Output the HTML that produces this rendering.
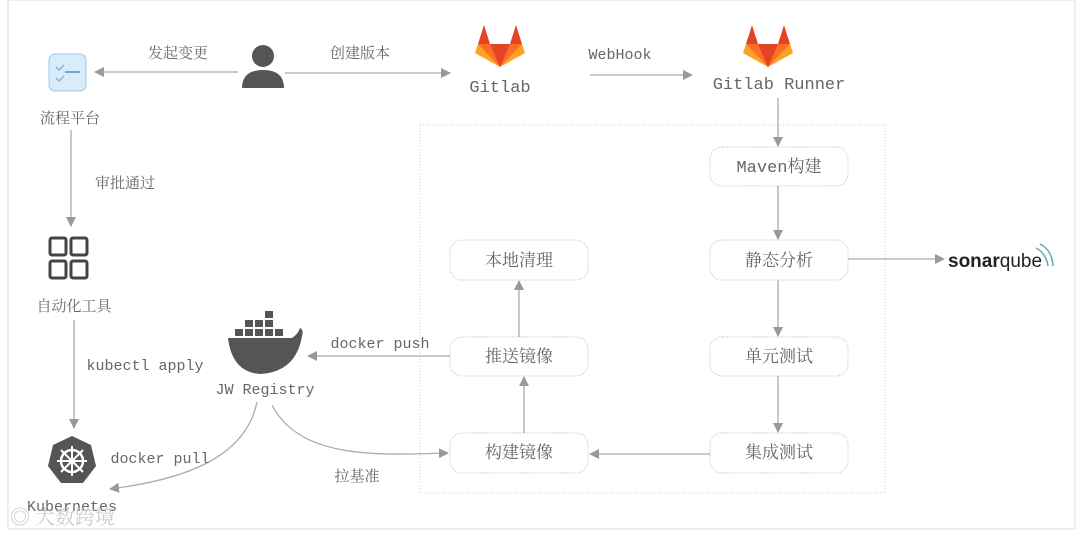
<!DOCTYPE html>
<html><head><meta charset="utf-8"><style>
html,body{margin:0;padding:0;background:#fff;width:1080px;height:535px;overflow:hidden}
svg text{font-family:"Liberation Mono","Noto Serif CJK SC",monospace;fill:#666}
.cn{font-family:"Liberation Serif","Noto Serif CJK SC",serif}
</style></head><body>
<svg width="1080" height="535" xmlns="http://www.w3.org/2000/svg">
<defs>
<marker id="a" markerWidth="10" markerHeight="10" refX="9" refY="5" orient="auto" markerUnits="userSpaceOnUse"><path d="M0,0 L10,5 L0,10 z" fill="#999"/></marker>
</defs>
<rect x="8" y="0" width="1067" height="529" fill="none" stroke="#ddd"/>
<rect x="420" y="125" width="465" height="368" fill="none" stroke="#ccc" stroke-dasharray="1,2"/>
<g fill="#fff" stroke="#bbb" stroke-dasharray="1,1.5">
<rect x="710" y="147" width="138" height="39" rx="12"/>
<rect x="710" y="240" width="138" height="40" rx="12"/>
<rect x="710" y="337" width="138" height="39" rx="12"/>
<rect x="710" y="433" width="138" height="40" rx="12"/>
<rect x="450" y="240" width="138" height="40" rx="12"/>
<rect x="450" y="337" width="138" height="39" rx="12"/>
<rect x="450" y="433" width="138" height="40" rx="12"/>
</g>
<g font-size="17" text-anchor="middle">
<text x="779" y="172">Maven<tspan class="cn">构建</tspan></text>
<text x="779" y="266" class="cn">静态分析</text>
<text x="779" y="362" class="cn">单元测试</text>
<text x="779" y="458" class="cn">集成测试</text>
<text x="519" y="266" class="cn">本地清理</text>
<text x="519" y="362" class="cn">推送镜像</text>
<text x="519" y="458" class="cn">构建镜像</text>
</g>
<g stroke="#aaa" stroke-width="1.3" fill="none" marker-end="url(#a)">
<line x1="238" y1="72" x2="95" y2="72"/>
<line x1="285" y1="73" x2="450" y2="73"/>
<line x1="590" y1="75" x2="692" y2="75"/>
<line x1="778" y1="98" x2="778" y2="146"/>
<line x1="778" y1="186" x2="778" y2="239"/>
<line x1="778" y1="280" x2="778" y2="336"/>
<line x1="778" y1="376" x2="778" y2="432"/>
<line x1="710" y1="454" x2="590" y2="454"/>
<line x1="524" y1="433" x2="524" y2="377"/>
<line x1="519" y1="337" x2="519" y2="281"/>
<line x1="848" y1="259" x2="944" y2="259"/>
<line x1="450" y1="356" x2="308" y2="356"/>
<line x1="71" y1="130" x2="71" y2="226"/>
<line x1="74" y1="320" x2="74" y2="428"/>
<path d="M257,402 C245,460 180,480 110,489"/>
<path d="M272,405 C300,460 380,455 448,453"/>
</g>
<g font-size="15" text-anchor="middle">
<text x="178" y="58" class="cn">发起变更</text>
<text x="360" y="58" class="cn">创建版本</text>
<text x="620" y="59">WebHook</text>
<text x="500" y="92" font-size="17">Gitlab</text>
<text x="779" y="89" font-size="17">Gitlab Runner</text>
<text x="70" y="123" class="cn">流程平台</text>
<text x="125" y="188" class="cn">审批通过</text>
<text x="74" y="311" class="cn">自动化工具</text>
<text x="145" y="370">kubectl apply</text>
<text x="380" y="348">docker push</text>
<text x="265" y="394">JW Registry</text>
<text x="160" y="463">docker pull</text>
<text x="357" y="481" class="cn">拉基准</text>
<text x="72" y="511">Kubernetes</text>
</g>
<rect x="49" y="54" width="37" height="37" rx="6" fill="#d8ecfa" stroke="#9cc8ea"/>
<path d="M56,67 l3,3 5,-5 M56,78 l3,3 5,-5" stroke="#7fb2da" fill="none" stroke-width="1.4"/>
<line x1="65" y1="72" x2="80" y2="72" stroke="#6aa8dd" stroke-width="2"/>
<circle cx="263" cy="56" r="11" fill="#555"/>
<path d="M242,88 Q242,70 263,70 Q284,70 284,88 z" fill="#555"/>
<g transform="translate(500,47)">
<path d="M-22,-3 L-16,-22 L-10,-3 L10,-3 L16,-22 L22,-3 L0,20 z" fill="#e24329"/>
<path d="M-22,-3 L-10,-3 L0,20 z" fill="#fc6d26"/>
<path d="M22,-3 L10,-3 L0,20 z" fill="#fc6d26"/>
<path d="M-22,-3 L-25,6 L0,20 z M22,-3 L25,6 L0,20 z" fill="#fca326"/>
</g>
<g transform="translate(768,47)">
<path d="M-22,-3 L-16,-22 L-10,-3 L10,-3 L16,-22 L22,-3 L0,20 z" fill="#e24329"/>
<path d="M-22,-3 L-10,-3 L0,20 z" fill="#fc6d26"/>
<path d="M22,-3 L10,-3 L0,20 z" fill="#fc6d26"/>
<path d="M-22,-3 L-25,6 L0,20 z M22,-3 L25,6 L0,20 z" fill="#fca326"/>
</g>
<g fill="none" stroke="#444" stroke-width="3">
<rect x="50" y="238" width="16" height="17" rx="2"/><rect x="71" y="238" width="16" height="17" rx="2"/>
<rect x="50" y="261" width="16" height="17" rx="2"/><rect x="71" y="261" width="16" height="17" rx="2"/>
</g>
<g fill="#555">
<path d="M228,338 L292,338 Q298,334 300,328 Q304,330 302,336 Q296,372 260,374 Q232,372 228,338 z"/>
<rect x="235" y="329" width="8" height="7"/><rect x="245" y="329" width="8" height="7"/><rect x="255" y="329" width="8" height="7"/><rect x="265" y="329" width="8" height="7"/><rect x="275" y="329" width="8" height="7"/>
<rect x="245" y="320" width="8" height="7"/><rect x="255" y="320" width="8" height="7"/><rect x="265" y="320" width="8" height="7"/>
<rect x="265" y="311" width="8" height="7"/>
</g>
<polygon points="72,436 91,445 96,466 83,483 61,483 48,466 53,445" fill="#555"/>
<circle cx="72" cy="461" r="11" fill="none" stroke="#fff" stroke-width="2.5"/>
<g stroke="#fff" stroke-width="2"><line x1="72" y1="446" x2="72" y2="476"/><line x1="57" y1="461" x2="87" y2="461"/><line x1="61" y1="450" x2="83" y2="472"/><line x1="83" y1="450" x2="61" y2="472"/></g>
<text x="948" y="267" font-size="19" style="font-family:'Liberation Sans',sans-serif;fill:#222;font-weight:bold">sonar<tspan style="font-weight:normal;font-family:'Liberation Sans',sans-serif">qube</tspan></text>
<path d="M1036,248 q10,5 12,18 M1040,244 q12,6 13,22" stroke="#6aa" fill="none" stroke-width="1.5"/>
<text x="10" y="524" font-size="20" class="cn" style="fill:#ccc">◎ 大数跨境</text>
</svg>
</body></html>
